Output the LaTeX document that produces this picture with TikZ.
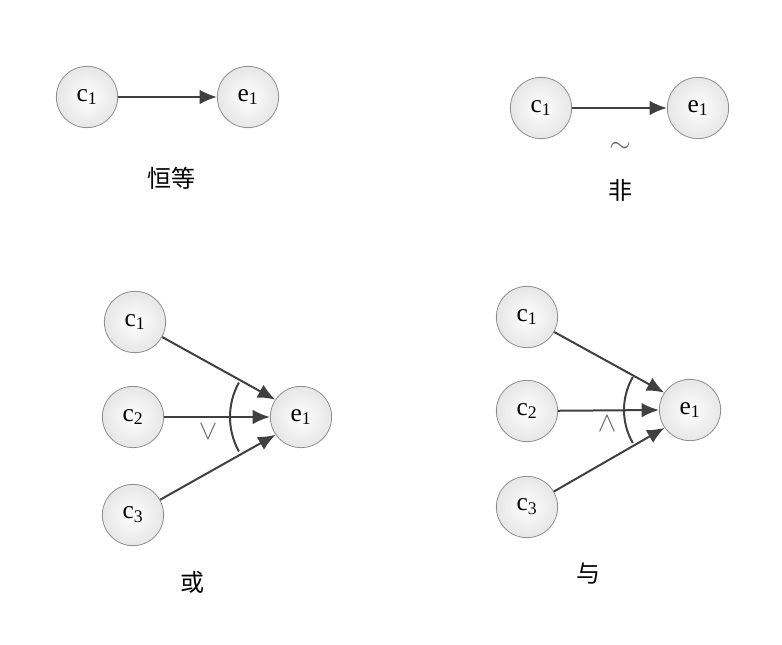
\documentclass[tikz,border=0pt]{standalone}
\usepackage{fontspec}
\setmainfont{Liberation Serif}
\newfontfamily\cjk{Noto Sans CJK SC}
\definecolor{ink}{HTML}{404040}
\definecolor{rim}{HTML}{8E8E8E}
\definecolor{pale}{HTML}{E6E6E6}
\usetikzlibrary{arrows.meta}
\tikzset{
  >={Latex[length=13pt,width=11pt]},
  ev/.style={circle,draw=rim,line width=0.6pt,inner color=white,outer color=pale,minimum size=46pt,inner sep=0pt,font=\fontsize{19}{21}\selectfont},
  arr/.style={->,draw=ink,line width=1.5pt},
  arcl/.style={draw=ink,line width=1.5pt},
  lab/.style={font=\cjk\fontsize{18}{20}\selectfont},
  op/.style={font=\fontsize{22}{24}\selectfont,text=ink!80},
}
\newcommand{\ix}[1]{\textsubscript{#1}}

\begin{document}
\begin{tikzpicture}[x=0.75pt,y=-0.75pt]
\useasboundingbox (0,0) rectangle (782,645);
% identity
\node[ev] (ic) at (87,97) {c\ix1};
\node[ev] (ie) at (248,97) {e\ix1};
\draw[arr] (ic)--(ie);
\node[lab] (il) at (171,178) {恒等};
% not
\node[ev] (nc) at (541,108) {c\ix1};
\node[ev] (ne) at (698,108) {e\ix1};
\draw[arr] (nc)--(ne);
\node[op] (nt) at (620,147) {$\sim$};
\node[lab] (nl) at (620,190) {非};
% or
\node[ev] (oc1) at (135,322) {c\ix1};
\node[ev] (oc2) at (133,417) {c\ix2};
\node[ev] (oc3) at (133,515) {c\ix3};
\node[ev] (oe) at (301,417) {e\ix1};
\draw[arr] (oc1)--(oe.146); \draw[arr] (oc2)--(oe.180); \draw[arr] (oc3)--(oe.215);
\draw[arcl] (oe.center) ++(151:53.25pt) arc[start angle=151,end angle=209,radius=53.25pt];
\node[op] (ov) at (208,432) {$\vee$};
\node[lab] (ol) at (192,582) {或};
% and
\node[ev] (ac1) at (527,317) {c\ix1};
\node[ev] (ac2) at (527,411) {c\ix2};
\node[ev] (ac3) at (527,507) {c\ix3};
\node[ev] (ae) at (690,410) {e\ix1};
\draw[arr] (ac1)--(ae.146); \draw[arr] (ac2)--(ae.180); \draw[arr] (ac3)--(ae.215);
\draw[arcl] (ae.center) ++(150:49.5pt) arc[start angle=150,end angle=210,radius=49.5pt];
\node[op] (aw) at (607,424) {$\wedge$};
\node[lab] (al) at (588,574) {与};
\end{tikzpicture}
\end{document}
